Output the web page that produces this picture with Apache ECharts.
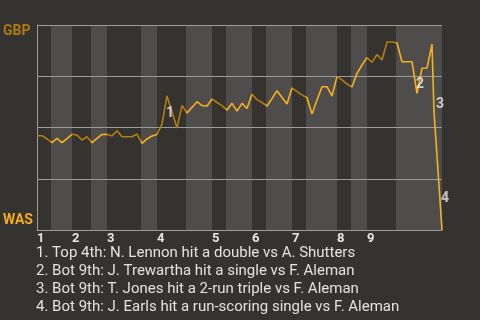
<!DOCTYPE html>
<html><head><meta charset="utf-8">
<script src="https://cdn.jsdelivr.net/npm/echarts@6/dist/echarts.min.js"></script>
<style>html,body{margin:0;padding:0;background:#353330}#c{width:480px;height:320px}</style>
</head><body><div id="c"></div>
<script>
// event index (plate appearance order) and GBP win probability (1 = GBP, 0 = WAS)
const eventX = [0,1,2,3,4,5,6,7,8,9,10,11,12,13,14,15,16,17,18,19,20,21,22,23,24,25,26,27,28,29,
  30,31,32,33,34,35,36,37,38,39,40,41,42,43,44,45,46,47,48,49,50,51,52,53,54,55,56,57,58,59,
  60,61,62,63,64,65,66,67,68,69,70,71,72,73,74,75,76,77,78,79,79.4,81];
const winProb = [0.460,0.460,0.444,0.426,0.447,0.426,0.446,0.467,0.463,0.439,0.455,0.426,0.447,0.466,0.467,
  0.459,0.484,0.455,0.455,0.455,0.468,0.423,0.444,0.459,0.466,0.517,0.654,0.576,0.498,0.607,
  0.571,0.598,0.626,0.607,0.605,0.639,0.622,0.607,0.585,0.618,0.580,0.618,0.593,0.662,0.636,
  0.622,0.605,0.641,0.679,0.646,0.615,0.693,0.675,0.659,0.645,0.566,0.634,0.699,0.699,0.654,
  0.748,0.732,0.712,0.698,0.764,0.805,0.841,0.818,0.856,0.829,0.917,0.917,0.912,0.821,0.821,
  0.821,0.667,0.789,0.790,0.906,0.576,0.000];
// half-inning end positions (top/bottom alternating)
const halfInningEnds = [2.8,7,10.8,14,20.8,24,29.8,35,37.8,43,45.8,51,53.8,60,62.8,66,71.8,81];
const inningStarts = [0,7,14,24,35,43,51,60,66];
const inningLabels = ['1','2','3','4','5','6','7','8','9'];
const teamLabels = ['WAS','GBP'];
const annotX = [26.6,76.6,80.6,81.6];
const annotY = [0.566,0.711,0.613,0.155];
const annotText = ['1','2','3','4'];
const notes = [
  '1. Top 4th: N. Lennon hit a double vs A. Shutters',
  '2. Bot 9th: J. Trewartha hit a single vs F. Aleman',
  '3. Bot 9th: T. Jones hit a 2-run triple vs F. Aleman',
  '4. Bot 9th: J. Earls hit a run-scoring single vs F. Aleman'
];

const DARK_BG = '#353330', LIGHT_BG = '#4f4d4b';
const GBP_COL = '#b27c10', WAS_COL = '#f7b01e';
const GRID_COL = '#9c9c9c';

const stripes = [];
const pieces = [];
let prev = 0;
halfInningEnds.forEach((e, i) => {
  if (i % 2 === 1) stripes.push([{xAxis: prev}, {xAxis: e}]);
  pieces.push(i === halfInningEnds.length - 1
    ? {gte: prev, lte: e + 1, color: i % 2 === 0 ? GBP_COL : WAS_COL}
    : {gte: prev, lt: e, color: i % 2 === 0 ? GBP_COL : WAS_COL});
  prev = e;
});

const chart = echarts.init(document.getElementById('c'), null, {renderer: 'canvas'});
chart.setOption({
  backgroundColor: DARK_BG,
  animation: false,
  textStyle: {fontFamily: 'Roboto'},
  grid: {left: 37, right: 38, top: 25, bottom: 90},
  title: {
    text: notes.join('\n'),
    left: 36, top: 244, padding: 0,
    textStyle: {color: '#e2e2e2', fontSize: 15, fontWeight: 'normal', lineHeight: 18, fontFamily: 'Roboto'}
  },
  xAxis: {
    type: 'value', min: 0, max: 81, z: 3,
    axisLine: {show: true, lineStyle: {color: GRID_COL, width: 1}},
    axisTick: {show: false},
    splitLine: {show: false},
    axisLabel: {
      customValues: inningStarts,
      formatter: v => inningLabels[inningStarts.indexOf(v)] || '',
      align: 'left', margin: 2,
      color: '#e6e6e6', fontWeight: 'bold', fontSize: 13, fontFamily: 'Roboto'
    }
  },
  yAxis: {
    type: 'value', min: 0, max: 1, interval: 0.25, z: 3,
    axisLine: {show: true, lineStyle: {color: GRID_COL, width: 1}},
    axisTick: {show: false},
    splitLine: {show: true, lineStyle: {color: GRID_COL, width: 1}},
    axisLabel: {
      align: 'left', margin: 34,
      formatter: v => v === 1 ? '{g|' + teamLabels[1] + '}' : (v === 0 ? '{w|' + teamLabels[0] + '}' : ''),
      rich: {
        g: {color: '#b07a10', fontWeight: 'bold', fontSize: 14, fontFamily: 'Roboto', padding: [12, 0, 0, 0]},
        w: {color: '#f5ad1c', fontWeight: 'bold', fontSize: 14, fontFamily: 'Roboto', padding: [0, 0, 20, 0]}
      }
    }
  },
  visualMap: {
    show: false, type: 'piecewise', dimension: 0, seriesIndex: 1,
    pieces: pieces
  },
  series: [
    {
      type: 'line', data: [], z: 1, silent: true,
      markArea: {silent: true, itemStyle: {color: LIGHT_BG}, data: stripes}
    },
    {
      type: 'line', z: 5,
      data: eventX.map((x, i) => [x, winProb[i]]),
      showSymbol: false, symbol: 'none',
      lineStyle: {width: 1.6}
    },
    {
      type: 'scatter', z: 6, clip: false, symbolSize: 0,
      data: annotX.map((x, i) => [x, annotY[i], annotText[i]]),
      label: {
        show: true, position: 'inside', formatter: p => p.data[2],
        color: '#ececec', fontWeight: 'bold', fontSize: 14, fontFamily: 'Roboto'
      }
    }
  ]
});
</script></body></html>
